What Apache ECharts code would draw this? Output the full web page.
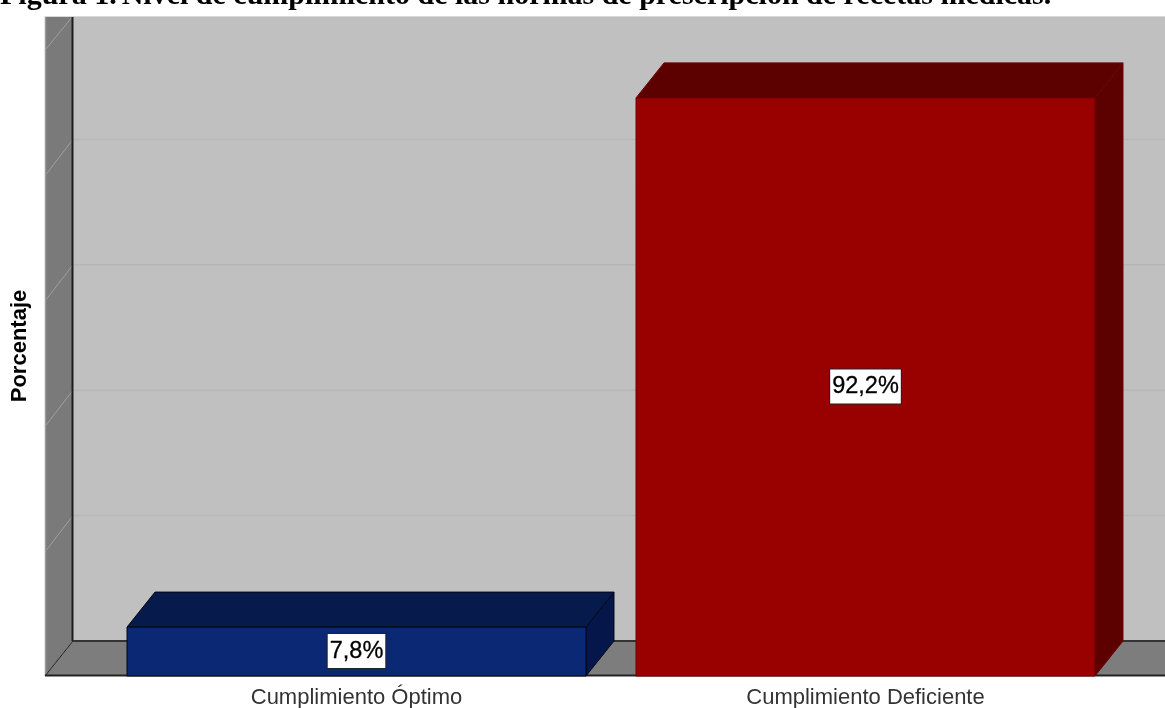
<!DOCTYPE html>
<html><head><meta charset="utf-8">
<style>html,body{margin:0;padding:0;background:#fff;overflow:hidden}#c{width:1165px;height:708px}</style>
<script src="https://cdn.jsdelivr.net/npm/echarts@6/dist/echarts.min.js"></script>
</head><body><div id="c"></div>
<script>
const categories = ['Cumplimiento Óptimo', 'Cumplimiento Deficiente'];
const percentages = [7.8, 92.2];
const frontColors = ['#0a2874', '#990000'];
const topColors = ['#061a4c', '#5c0000'];
const sideColors = ['#04164a', '#5c0000'];
const edgeColors = ['#050814', '#6e0000'];
const gridTicks = [20, 40, 60, 80, 100];
const yMax = 105.26;
const DX = 28, DY = 35, LEFT = 45, RIGHT = 1165, BAR_RATIO = 0.9017;

const chart = echarts.init(document.getElementById('c'), null, {renderer: 'canvas'});

function poly(points, fill, stroke, lw) {
  return {type: 'polygon', shape: {points}, style: {fill, stroke: stroke || 'none', lineWidth: lw || 0}};
}
function seg(x1, y1, x2, y2, stroke, lw) {
  return {type: 'line', shape: {x1, y1, x2, y2}, style: {stroke, lineWidth: lw}};
}

function renderWalls(params, api) {
  const top = params.coordSys.y;
  const y0 = api.coord([0, 0])[1];
  const bx = LEFT + DX, by = y0 - DY;
  const ch = [];
  ch.push({type: 'rect', shape: {x: bx, y: top, width: RIGHT - bx, height: by - top}, style: {fill: '#c0c0c0'}});
  ch.push(poly([[LEFT, top], [bx, top], [bx, by], [LEFT, y0]], '#7a7a7a'));
  ch.push(poly([[LEFT, y0], [bx, by], [RIGHT, by], [RIGHT, y0]], '#7d7d7d'));
  gridTicks.forEach(v => {
    const y = api.coord([0, v])[1];
    if (y - DY > top) ch.push(seg(bx, y - DY, RIGHT, y - DY, '#b6b6b6', 1.5));
    ch.push({type: 'line', shape: {x1: LEFT + 1, y1: y, x2: bx, y2: Math.max(y - DY, top)}, style: {stroke: '#a0a0a0', lineWidth: 1}});
  });
  ch.push(seg(LEFT + 0.5, top, LEFT + 0.5, y0, '#9a9a9a', 1.5));
  ch.push(seg(bx - 0.5, top, bx - 0.5, by, '#1e1e1e', 2));
  ch.push(seg(LEFT, y0, bx, by, '#222', 1));
  ch.push(seg(bx, by, RIGHT, by, '#333', 2));
  ch.push(seg(LEFT, y0 - 0.5, RIGHT, y0 - 0.5, '#222', 2));
  ch.push({type: 'rect', shape: {x: LEFT, y: top, width: RIGHT - LEFT, height: 1}, style: {fill: '#d8d8d8'}});
  return {type: 'group', children: ch};
}

function renderBar(params, api) {
  const i = api.value(0), v = api.value(1);
  const c = api.coord([i, v]), b = api.coord([i, 0]);
  const w = api.size([1, 0])[0] * BAR_RATIO;
  const l = c[0] - w / 2, r = c[0] + w / 2, t = c[1], y0 = b[1];
  const e = edgeColors[i];
  return {type: 'group', children: [
    poly([[r, y0], [r + DX, y0 - DY], [r + DX, t - DY], [r, t]], sideColors[i], e, 1),
    poly([[l, t], [l + DX, t - DY], [r + DX, t - DY], [r, t]], topColors[i], e, 1),
    {type: 'rect', shape: {x: l, y: t, width: w, height: y0 - t}, style: {fill: frontColors[i], stroke: e, lineWidth: 1}},
    {type: 'text', z2: 10, style: {
      text: String(v).replace('.', ',') + '%',
      x: c[0], y: (t + y0) / 2 - 0.5, align: 'center', verticalAlign: 'middle',
      fill: '#000', stroke: '#000', lineWidth: 0.3, font: '23.5px "Liberation Sans", Arial, sans-serif',
      backgroundColor: '#fff', borderColor: '#222', borderWidth: 1, padding: [5, 2, 5, 2]
    }}
  ]};
}

chart.setOption({
  animation: false,
  backgroundColor: '#fff',
  title: {
    text: '{b|Figura 1.} {r|Nivel de cumplimiento de las normas de prescripción de recetas médicas.}',
    left: 0, top: -19, padding: 0,
    textStyle: {rich: {
      b: {fontFamily: '"Liberation Serif", serif', fontWeight: 'bold', fontSize: 30, color: '#000'},
      r: {fontFamily: '"Liberation Serif", serif', fontSize: 30, color: '#000'}
    }}
  },
  grid: {left: 102, right: 45, top: 16, bottom: 32, outerBoundsMode: 'none'},
  xAxis: {
    type: 'category', data: categories,
    axisLine: {show: false}, axisTick: {show: false},
    axisLabel: {color: '#333', fontFamily: '"Liberation Sans", Arial, sans-serif', fontSize: 22, margin: 11}
  },
  yAxis: {
    type: 'value', min: 0, max: yMax, interval: 20,
    axisLine: {show: false}, axisTick: {show: false}, axisLabel: {show: false}, splitLine: {show: false},
    name: 'Porcentaje', nameLocation: 'middle', nameGap: 71, nameRotate: 90,
    nameTextStyle: {color: '#000', fontWeight: 'bold', fontSize: 22, fontFamily: '"Liberation Sans", Arial, sans-serif'}
  },
  series: [
    {type: 'custom', name: 'walls', silent: true, clip: false, z: 1, data: [[0, 0]], renderItem: renderWalls, encode: {x: 0, y: 1}},
    {type: 'custom', name: 'Porcentaje', clip: false, z: 2, data: percentages.map((v, i) => [i, v]), renderItem: renderBar, encode: {x: 0, y: 1}}
  ]
});
</script></body></html>
